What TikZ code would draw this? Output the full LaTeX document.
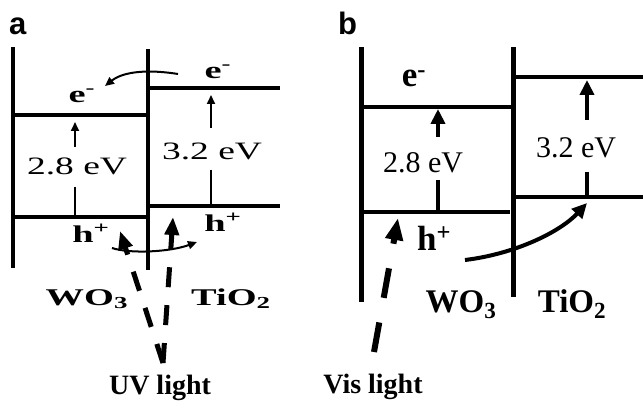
\documentclass[tikz,border=0pt]{standalone}
\usepackage{fontspec}
\setmainfont{Liberation Serif}
\setsansfont{Liberation Sans}
\usetikzlibrary{arrows.meta}
\tikzset{
  walla/.style={line width=3.3pt},
  banda/.style={line width=4pt},
  wallb/.style={line width=5pt},
  bandb/.style={line width=4.5pt},
  thinline/.style={line width=2pt},
  thinarr/.style={-{Triangle[length=9pt,width=8pt]}, line width=2pt},
  fatline/.style={line width=4pt},
  fatarr/.style={-{Triangle[length=15pt,width=14pt]}, line width=4pt},
  uvarr/.style={-{Triangle[length=18pt,width=14pt]}, line width=5pt, dash pattern=on 20pt off 18pt},
  visarr/.style={-{Triangle[length=22pt,width=17pt]}, line width=6pt, dash pattern=on 30pt off 25pt},
  bolda/.style={font=\bfseries\fontsize{24}{24}\selectfont, xscale=1.6, anchor=base, inner sep=0pt},
  rega/.style={font=\fontsize{25}{25}\selectfont, xscale=1.5, anchor=base, inner sep=0pt},
  boldb/.style={font=\bfseries\fontsize{33}{33}\selectfont, anchor=base, inner sep=0pt},
  bigb/.style={font=\bfseries\fontsize{35}{35}\selectfont, anchor=base, inner sep=0pt},
  regb/.style={font=\fontsize{30}{30}\selectfont, anchor=base, inner sep=0pt},
  lightlab/.style={font=\bfseries\fontsize{28}{28}\selectfont, anchor=base, inner sep=0pt},
  panellabel/.style={font=\sffamily\bfseries\fontsize{31}{31}\selectfont, anchor=base west, inner sep=0pt}
}
\begin{document}
\begin{tikzpicture}[x=1pt,y=-1pt]
\useasboundingbox (0,0) rectangle (643,401);
% panel a
\node[panellabel] (la) at (9,35) {a};
\draw[walla] (13,47) -- (13,268);
\draw[walla] (148,49) -- (148,270);
\draw[banda] (13,115) coordinate (wcbA) -- (148,115);
\draw[banda] (13,217) coordinate (wvbA) -- (148,217);
\draw[banda] (148,88) coordinate (tcbA) -- (280,88);
\draw[banda] (148,206) coordinate (tvbA) -- (280,206);
\node[rega] (gapWa) at (77,175) {2.8 eV};
\node[rega] (gapTa) at (212,160) {3.2 eV};
\coordinate (gWaU) at (75,147);
\coordinate (gWaD) at (75,187);
\coordinate (gTaU) at (211,128);
\coordinate (gTaD) at (211,170);
\draw[thinarr, shorten >=7pt] (gWaU) -- (gWaU |- wcbA);
\draw[thinline] (gWaD) -- (gWaD |- wvbA);
\draw[thinarr, shorten >=7pt] (gTaU) -- (gTaU |- tcbA);
\draw[thinline] (gTaD) -- (gTaD |- tvbA);
\node[bolda] (eWa) at (82,103) {e\textsuperscript{-}};
\node[bolda] (eTa) at (218,79) {e\textsuperscript{-}};
\node[bolda] (hWa) at (91,243) {h\textsuperscript{+}};
\node[bolda] (hTa) at (223,232) {h\textsuperscript{+}};
\node[bolda] (wo3a) at (87,305) {WO\textsubscript{3}};
\node[bolda] (tio2a) at (231,305) {TiO\textsubscript{2}};
\node[lightlab] (uv) at (160,394) {UV light};
\coordinate (eSrc) at (178,74);
\coordinate (eDst) at (105,86);
\draw[thinarr] (eSrc) .. controls (140,68) and (120,74) .. (eDst);
\coordinate (hSrc) at (112,248);
\coordinate (hDst) at (197,242);
\draw[thinarr] (hSrc) .. controls (130,254) and (170,252) .. (hDst);
\coordinate (uvSrc) at (163,363);
\coordinate (uvW) at (120,231);
\coordinate (uvT) at (173,217);
\draw[uvarr] (uvSrc) -- (uvW);
\draw[uvarr] (uvSrc) -- (uvT);
% panel b
\node[panellabel] (lb) at (338,35) {b};
\draw[wallb] (361,47) -- (361,302);
\draw[wallb] (513,47) -- (513,297);
\draw[bandb] (361,107) coordinate (wcbB) -- (513,107);
\draw[bandb] (361,212) coordinate (wvbB) -- (510,212);
\draw[bandb] (513,77) coordinate (tcbB) -- (643,77);
\draw[bandb] (513,197) coordinate (tvbB) -- (643,197);
\node[regb] (gapWb) at (423,173) {2.8 eV};
\node[regb] (gapTb) at (576,158) {3.2 eV};
\coordinate (gWbU) at (438,137);
\coordinate (gWbD) at (438,180);
\coordinate (gTbU) at (587,120);
\coordinate (gTbD) at (587,172);
\draw[fatarr, shorten >=2pt] (gWbU) -- (gWbU |- wcbB);
\draw[fatline] (gWbD) -- (gWbD |- wvbB);
\draw[fatarr, shorten >=3pt] (gTbU) -- (gTbU |- tcbB);
\draw[fatline] (gTbD) -- (gTbD |- tvbB);
\node[bigb] (eWb) at (414,87) {e\textsuperscript{-}};
\node[bigb] (hWb) at (434,250) {h\textsuperscript{+}};
\node[boldb] (wo3b) at (461,312) {WO\textsubscript{3}};
\node[boldb] (tio2b) at (572,312) {TiO\textsubscript{2}};
\node[lightlab] (vis) at (373,393) {Vis light};
\coordinate (hbSrc) at (465,260);
\coordinate (hbDst) at (587,203);
\draw[fatarr] (hbSrc) .. controls (515,254) and (560,232) .. (hbDst);
\coordinate (visSrc) at (374,352);
\coordinate (visDst) at (398,218);
\draw[visarr] (visSrc) -- (visDst);
\end{tikzpicture}
\end{document}
